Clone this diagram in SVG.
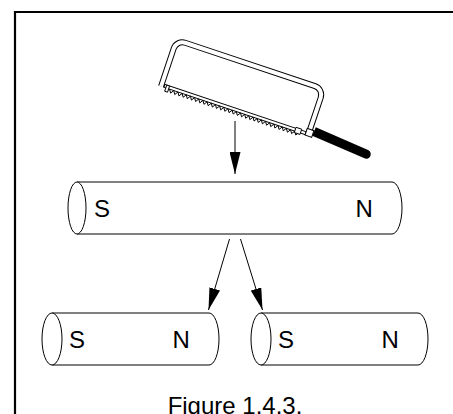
<svg xmlns="http://www.w3.org/2000/svg" width="453" height="414" viewBox="0 0 453 414">
  <style>
    .frame { stroke: #000; stroke-width: 2.2; fill: none; }
    .mag { fill: #fff; stroke: #000; stroke-width: 1; }
    .edge { fill: none; stroke: #000; stroke-width: 1; }
    .pole { font-family: "Liberation Sans", Arial, sans-serif; font-size: 24px; fill: #000; }
    .caption { font-family: "Liberation Sans", Arial, sans-serif; font-size: 24px; fill: #000; text-anchor: middle; }
    .conn { stroke: #000; stroke-width: 1; fill: none; marker-end: url(#head); }
  </style>
  <defs>
    <marker id="head" markerUnits="userSpaceOnUse" viewBox="0 0 22 11" markerWidth="22" markerHeight="11" refX="22" refY="5.5" orient="auto">
      <path d="M0,0 L22,5.5 L0,11 Z" fill="#000"/>
    </marker>
  </defs>

  <rect width="453" height="414" fill="#fff"/>

  <!-- outer border (top and left edges) -->
  <path class="frame" d="M15,414 V12 H453"/>

  <!-- hacksaw -->
  <g id="saw">
    <g transform="translate(162,83.5) rotate(18.5)">
      <!-- bow: tube drawn as a dark outline with a white core -->
      <path d="M0,3 V-37 A9,9 0 0 1 9,-46 H146 A9,9 0 0 1 155,-37 V3" fill="none" stroke="#000" stroke-width="6"/>
      <path d="M0,3.2 V-37 A9,9 0 0 1 9,-46 H146 A9,9 0 0 1 155,-37 V3.2" fill="none" stroke="#fff" stroke-width="4"/>
      <!-- blade -->
      <rect x="3" y="0" width="149" height="3" fill="#fff" stroke="#000" stroke-width="1"/>
      <path d="M9,3 l2.2 3.4 2.2 -3.4 l2.2 3.4 2.2 -3.4 l2.2 3.4 2.2 -3.4 l2.2 3.4 2.2 -3.4 l2.2 3.4 2.2 -3.4 l2.2 3.4 2.2 -3.4 l2.2 3.4 2.2 -3.4 l2.2 3.4 2.2 -3.4 l2.2 3.4 2.2 -3.4 l2.2 3.4 2.2 -3.4 l2.2 3.4 2.2 -3.4 l2.2 3.4 2.2 -3.4 l2.2 3.4 2.2 -3.4 l2.2 3.4 2.2 -3.4 l2.2 3.4 2.2 -3.4 l2.2 3.4 2.2 -3.4 l2.2 3.4 2.2 -3.4 l2.2 3.4 2.2 -3.4 l2.2 3.4 2.2 -3.4 l2.2 3.4 2.2 -3.4 l2.2 3.4 2.2 -3.4 l2.2 3.4 2.2 -3.4 l2.2 3.4 2.2 -3.4 l2.2 3.4 2.2 -3.4 l2.2 3.4 2.2 -3.4 l2.2 3.4 2.2 -3.4 l2.2 3.4 2.2 -3.4 l2.2 3.4 2.2 -3.4 l2.2 3.4 2.2 -3.4 l2.2 3.4 2.2 -3.4 l2.2 3.4 2.2 -3.4" fill="none" stroke="#000" stroke-width="0.9"/>
      <!-- blade pins -->
      <rect x="5" y="0" width="3" height="6.5" fill="#fff" stroke="#000" stroke-width="0.9"/>
      <rect x="141" y="-1" width="6" height="5.5" fill="#fff" stroke="#000" stroke-width="0.9"/>
      <!-- ferrule -->
      <rect x="152" y="-3.5" width="7" height="7" fill="#fff" stroke="#000" stroke-width="1"/>
    </g>
    <!-- handle -->
    <g transform="translate(314,131.5) rotate(23.5)">
      <path d="M0,-4.5 H57 A4.5,4.5 0 0 1 57,4.5 H0 Z" fill="#000"/>
    </g>
  </g>

  <!-- whole magnet -->
  <g id="magnet-whole">
    <path class="edge" d="M77,182 H392 A10,26 0 0 1 392,234 H77"/>
    <ellipse class="mag" cx="77" cy="208" rx="9" ry="26"/>
    <text class="pole" x="94" y="216.5">S</text>
    <text class="pole" x="355.5" y="216.5">N</text>
  </g>

  <!-- left half -->
  <g id="magnet-left">
    <path class="edge" d="M52,313 H209 A10,26 0 0 1 209,365 H52"/>
    <ellipse class="mag" cx="52" cy="339" rx="10" ry="26"/>
    <text class="pole" x="69" y="347.5">S</text>
    <text class="pole" x="172.5" y="347.5">N</text>
  </g>

  <!-- right half -->
  <g id="magnet-right">
    <path class="edge" d="M261,313 H418 A10,26 0 0 1 418,365 H261"/>
    <ellipse class="mag" cx="261" cy="339" rx="10" ry="26"/>
    <text class="pole" x="278" y="347.5">S</text>
    <text class="pole" x="381.5" y="347.5">N</text>
  </g>

  <!-- connectors -->
  <g id="connectors">
    <path class="conn" d="M235,121 V174"/>
    <path class="conn" d="M229.5,239 L208.5,310"/>
    <path class="conn" d="M240.5,239 L262.5,310"/>
  </g>

  <g id="caption">
    <text class="caption" x="235" y="414">Figure 1.4.3.</text>
  </g>
</svg>
